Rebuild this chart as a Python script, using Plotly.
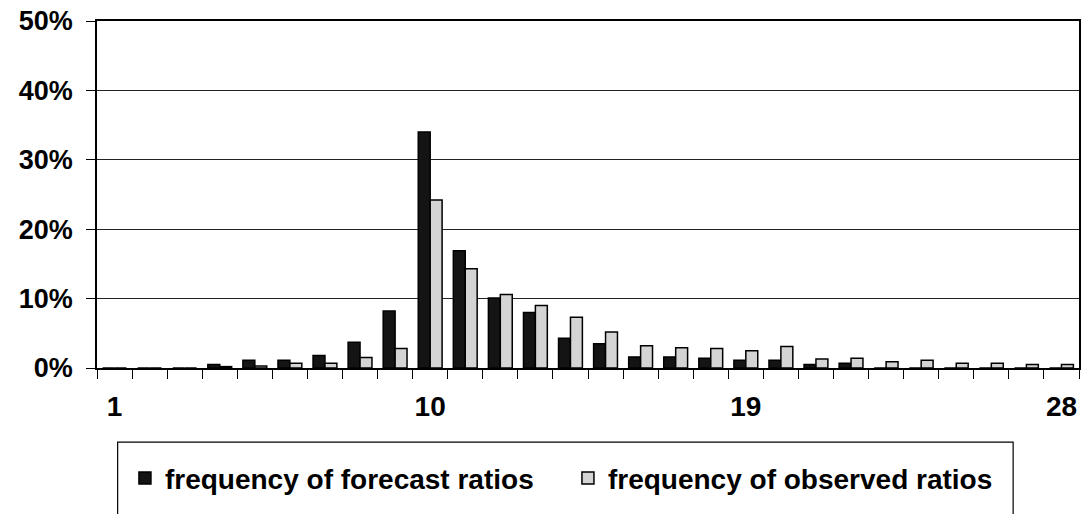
import plotly.graph_objects as go

categories = [str(i) for i in range(1, 29)]
forecast = [0, 0, 0, 0.5, 1.1, 1.1, 1.8, 3.7, 8.2, 34.0, 16.9, 10.1, 8.0, 4.3,
            3.5, 1.6, 1.6, 1.4, 1.1, 1.1, 0.5, 0.7, 0, 0, 0, 0, 0, 0]
observed = [0, 0, 0, 0.2, 0.3, 0.7, 0.7, 1.5, 2.8, 24.2, 14.3, 10.6, 9.0, 7.3,
            5.2, 3.2, 2.9, 2.8, 2.5, 3.1, 1.3, 1.4, 0.9, 1.1, 0.7, 0.7, 0.5, 0.5]
tick_labels = [c if c in ("1", "10", "19", "28") else "" for c in categories]
y_ticks = [0, 0.1, 0.2, 0.3, 0.4, 0.5]

FONT = "Liberation Sans, Arial, Helvetica, sans-serif"

fig = go.Figure()
fig.add_trace(go.Bar(
    x=categories, y=[v / 100 for v in forecast],
    name="frequency of forecast ratios",
    marker=dict(color="#141414", line=dict(color="black", width=1.5)),
))
fig.add_trace(go.Bar(
    x=categories, y=[v / 100 for v in observed],
    name="frequency of observed ratios",
    marker=dict(color="#d4d4d4", line=dict(color="black", width=1.5)),
))

L, R, T, B = 97, 6, 21, 145.5
W, H = 1087, 514
pw = W - L - R
ph = H - T - B

def px_x(x):
    return (x - L) / pw

def px_y(y):
    return (H - B - y) / ph

fig.update_layout(
    width=W, height=H,
    margin=dict(l=L, r=R, t=T, b=B, pad=0),
    paper_bgcolor="white", plot_bgcolor="white",
    barmode="group", bargap=0.32, bargroupgap=0,
    font=dict(family=FONT, size=28, color="black", weight="bold"),
    showlegend=True,
    legend=dict(
        orientation="h", x=px_x(125), xanchor="left",
        y=px_y(454), yanchor="top",
        font=dict(family=FONT, size=28, color="black", weight="bold"),
        bgcolor="rgba(0,0,0,0)", borderwidth=0,
        traceorder="normal", entrywidth=398, entrywidthmode="pixels",
    ),
    xaxis=dict(
        type="category", tickmode="array", tickvals=categories, ticktext=tick_labels,
        tickangle=0,
        tickson="boundaries", ticks="outside", ticklen=9, tickcolor="black",
        showline=True, linecolor="black", linewidth=1.5, mirror=True,
        showgrid=False, tickfont=dict(size=28, family=FONT, weight="bold"),
        ticklabelstandoff=13,
    ),
    yaxis=dict(
        range=[0, 0.5], tickvals=y_ticks, tickformat=".0%",
        ticks="outside", ticklen=9, tickcolor="black",
        showline=True, linecolor="black", linewidth=1.5, mirror=True,
        showgrid=True, gridcolor="#222222", gridwidth=1,
        zeroline=False, tickfont=dict(size=27, family=FONT, weight="bold"),
        ticklabelstandoff=8,
    ),
    shapes=[dict(
        type="rect", xref="paper", yref="paper",
        x0=px_x(117.7), x1=px_x(1015), y0=px_y(442.7), y1=px_y(530),
        line=dict(color="black", width=1.2), fillcolor="rgba(0,0,0,0)",
        layer="above",
    )],
)

fig.write_html("out.html")
